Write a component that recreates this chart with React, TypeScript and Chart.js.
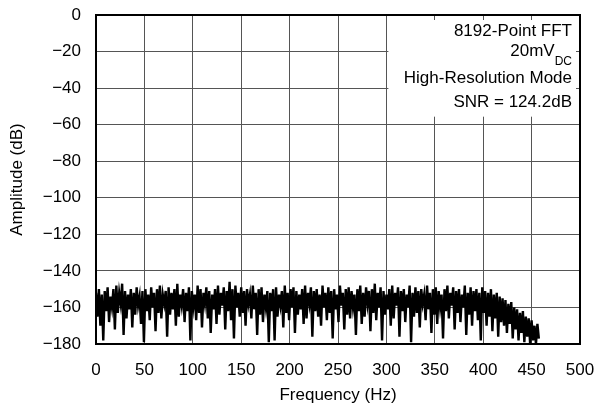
import React, { useEffect, useRef } from "react";
import { Chart, registerables } from "chart.js";

Chart.register(...registerables);

// FFT bin spacing (Hz) used for the plotted points
const BIN_HZ = 1.5;

const amplitudeDb: number[] = [
  -152, -165, -150, -170, -153, -178, -151, -162, -149, -168, -154, -160, -150, -172, -148, -163, -152, -158, -147, -175,
  -151, -166, -153, -161, -150, -171, -152, -164, -149, -159, -154, -169, -151, -179, -150, -162, -153, -167, -149, -160,
  -152, -173, -150, -163, -148, -166, -153, -158, -151, -176, -149, -164, -152, -161, -150, -170, -147, -165, -153, -159,
  -150, -168, -152, -162, -149, -178, -151, -160, -153, -167, -148, -163, -150, -171, -152, -158, -149, -166, -151, -174,
  -153, -161, -150, -169, -148, -164, -152, -159, -149, -172, -151, -162, -146, -167, -150, -177, -148, -160, -152, -165,
  -149, -163, -151, -170, -150, -158, -153, -166, -148, -161, -152, -175, -150, -164, -149, -168, -153, -160, -151, -179,
  -152, -162, -150, -178, -149, -165, -153, -159, -151, -171, -148, -163, -152, -167, -150, -160, -149, -174, -151, -164,
  -153, -161, -150, -169, -148, -166, -152, -158, -149, -176, -151, -162, -150, -165, -153, -170, -148, -160, -152, -167,
  -149, -163, -151, -177, -150, -161, -153, -168, -148, -159, -152, -172, -150, -164, -149, -166, -151, -160, -153, -175,
  -150, -162, -148, -169, -152, -165, -149, -158, -151, -173, -150, -163, -147, -167, -152, -160, -149, -178, -151, -164,
  -153, -161, -150, -170, -148, -166, -152, -159, -149, -176, -151, -162, -150, -168, -153, -160, -148, -179, -152, -165,
  -149, -163, -151, -171, -150, -158, -153, -167, -148, -161, -152, -174, -150, -164, -149, -169, -151, -160, -153, -177,
  -150, -162, -148, -166, -152, -159, -149, -172, -151, -163, -150, -168, -153, -160, -148, -175, -152, -164, -149, -170,
  -151, -162, -150, -167, -152, -178, -149, -163, -151, -170, -152, -165, -150, -173, -153, -166, -152, -176, -154, -168,
  -155, -170, -156, -174, -158, -169, -157, -177, -160, -172, -161, -178, -163, -174, -162, -179, -165, -176, -166, -180,
  -167, -178, -170, -180, -169, -177,
];

const frequencyHz: number[] = amplitudeDb.map((_, i) => i * BIN_HZ);

const xTickValues = [0, 50, 100, 150, 200, 250, 300, 350, 400, 450, 500];
const yTickValues = [0, -20, -40, -60, -80, -100, -120, -140, -160, -180];
const yTickLabels = ["0", "\u221220", "\u221240", "\u221260", "\u221280", "\u2212100", "\u2212120", "\u2212140", "\u2212160", "\u2212180"];

const noteLines = ["8192-Point FFT", "20mV", "High-Resolution Mode", "SNR = 124.2dB"];
const noteSubscript = "DC";

const FONT = "'Liberation Sans', Arial, Helvetica, sans-serif";

const framePlugin = {
  id: "frameAndNote",
  afterDraw(chart: any) {
    const { ctx, chartArea, scales } = chart;
    const { left, top, right, bottom } = chartArea;
    const x = scales.x;
    const y = scales.y;
    ctx.save();
    // note box
    const bx1 = x.getPixelForValue(300) + 2;
    const bx2 = x.getPixelForValue(500) - 4;
    const by1 = y.getPixelForValue(0) + 5;
    const by2 = y.getPixelForValue(-60) - 8;
    ctx.fillStyle = "#fff";
    ctx.fillRect(bx1, by1, bx2 - bx1, by2 - by1);

    const tx = x.getPixelForValue(500) - 8;
    const t0 = y.getPixelForValue(0);
    ctx.fillStyle = "#000";
    ctx.textAlign = "right";
    ctx.textBaseline = "middle";
    ctx.font = `17px ${FONT}`;
    ctx.fillText(noteLines[0], tx, t0 + 16);
    ctx.font = `12px ${FONT}`;
    const subW = ctx.measureText(noteSubscript).width;
    ctx.fillText(noteSubscript, tx, t0 + 47);
    ctx.font = `17px ${FONT}`;
    ctx.fillText(noteLines[1], tx - subW, t0 + 36);
    ctx.fillText(noteLines[2], tx, t0 + 63);
    ctx.fillText(noteLines[3], tx, t0 + 87);

    // frame
    ctx.strokeStyle = "#000";
    ctx.lineWidth = 2;
    ctx.strokeRect(left, top, right - left, bottom - top);
    ctx.restore();
  },
};

export default function App() {
  const canvasRef = useRef<HTMLCanvasElement | null>(null);

  useEffect(() => {
    if (!canvasRef.current) return;
    const chart = new Chart(canvasRef.current, {
      type: "line",
      data: {
        datasets: [
          {
            data: frequencyHz.map((f, i) => ({ x: f, y: amplitudeDb[i] })),
            borderColor: "#000",
            borderWidth: 2.4,
            pointRadius: 0,
            tension: 0,
            fill: false,
          },
        ],
      },
      options: {
        animation: false,
        responsive: true,
        maintainAspectRatio: false,
        layout: { padding: { top: 15, right: 17, left: 0, bottom: 0 } },
        plugins: { legend: { display: false }, tooltip: { enabled: false } },
        scales: {
          x: {
            type: "linear",
            min: 0,
            max: 500,
            z: 1,
            afterBuildTicks: (s: any) => {
              s.ticks = xTickValues.map((v) => ({ value: v }));
            },
            afterFit: (s: any) => {
              s.height = 65;
              s.paddingLeft = 0;
              s.paddingRight = 0;
            },
            ticks: {
              color: "#000",
              font: { family: FONT, size: 17 },
              padding: 16,
              maxRotation: 0,
              autoSkip: false,
              callback: (v: any) => String(v),
            },
            grid: { color: "#555", lineWidth: 1, drawTicks: false },
            border: { display: false },
            title: {
              display: true,
              text: "Frequency (Hz)",
              color: "#000",
              font: { family: FONT, size: 17 },
              padding: { top: 0, bottom: 3 },
            },
          },
          y: {
            type: "linear",
            min: -180,
            max: 0,
            z: 1,
            afterBuildTicks: (s: any) => {
              s.ticks = yTickValues.map((v) => ({ value: v }));
            },
            afterFit: (s: any) => {
              s.width = 96;
              s.paddingTop = 0;
              s.paddingBottom = 0;
            },
            ticks: {
              color: "#000",
              font: { family: FONT, size: 17 },
              padding: 15,
              autoSkip: false,
              callback: (v: any) => {
                const idx = yTickValues.indexOf(Number(v));
                return idx >= 0 ? yTickLabels[idx] : "";
              },
            },
            grid: { color: "#555", lineWidth: 1, drawTicks: false },
            border: { display: false },
            title: {
              display: true,
              text: "Amplitude (dB)",
              color: "#000",
              font: { family: FONT, size: 17 },
              padding: { top: 7, bottom: 0 },
            },
          },
        },
      },
      plugins: [framePlugin],
    });
    return () => chart.destroy();
  }, []);

  return (
    <div style={{ position: "absolute", left: 0, top: 0, width: 597, height: 409, background: "#fff" }}>
      <canvas ref={canvasRef} />
    </div>
  );
}
